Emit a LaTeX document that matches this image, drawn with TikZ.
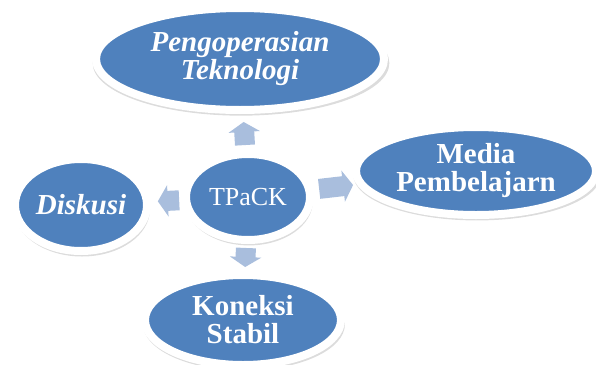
\documentclass[tikz,border=0pt]{standalone}
\usepackage{fontspec}
\setmainfont{Liberation Serif}
\usepackage{tikz}
\usetikzlibrary{shapes.geometric,shadows,arrows.meta}
\definecolor{nodeblue}{HTML}{4F81BD}
\definecolor{arrowblue}{HTML}{A9BEDD}
\tikzstyle{en}=[shape=ellipse,draw=white,line width=8pt,fill=nodeblue,text=white,
  inner sep=0pt,align=center,font=\fontsize{29}{28}\selectfont\bfseries,
  drop shadow={shadow xshift=1pt,shadow yshift=-4pt,shadow scale=1.03,opacity=0.28}]
\tikzstyle{to}=[-{Triangle[width=31pt,length=10pt]},line width=20pt,draw=arrowblue]

\begin{document}
\begin{tikzpicture}[x=1pt,y=1pt]
            \useasboundingbox (0,0) rectangle (596,-364);
            \node[en, minimum width=288pt, minimum height=102pt] (P) at (240, -59)
                {\itshape Pengoperasian\\\itshape Teknologi}
            ;
            \node[en, minimum width=240pt, minimum height=88pt] (M) at (476, -171)
                {Media\\Pembelajarn}
            ;
            \node[en, minimum width=132pt, minimum height=92pt] (D) at (81, -205)
                {\itshape Diskusi}
            ;
            \node[en, minimum width=196pt, minimum height=90pt] (K) at (243, -320)
                {Koneksi\\Stabil}
            ;
            \node[en, minimum width=124pt, minimum height=86pt,
                  font=\fontsize{26}{26}\selectfont] (T) at (248, -197) {TPaCK}
                edge[to, shorten <=5pt, shorten >=8pt] (P)
                edge[to, shorten <=6pt, shorten >=4pt] (M)
                edge[to, shorten <=3pt, shorten >=7pt] (D)
                edge[to, shorten <=4pt, shorten >=4pt] (K)
            ;
        \end{tikzpicture}
\end{document}
